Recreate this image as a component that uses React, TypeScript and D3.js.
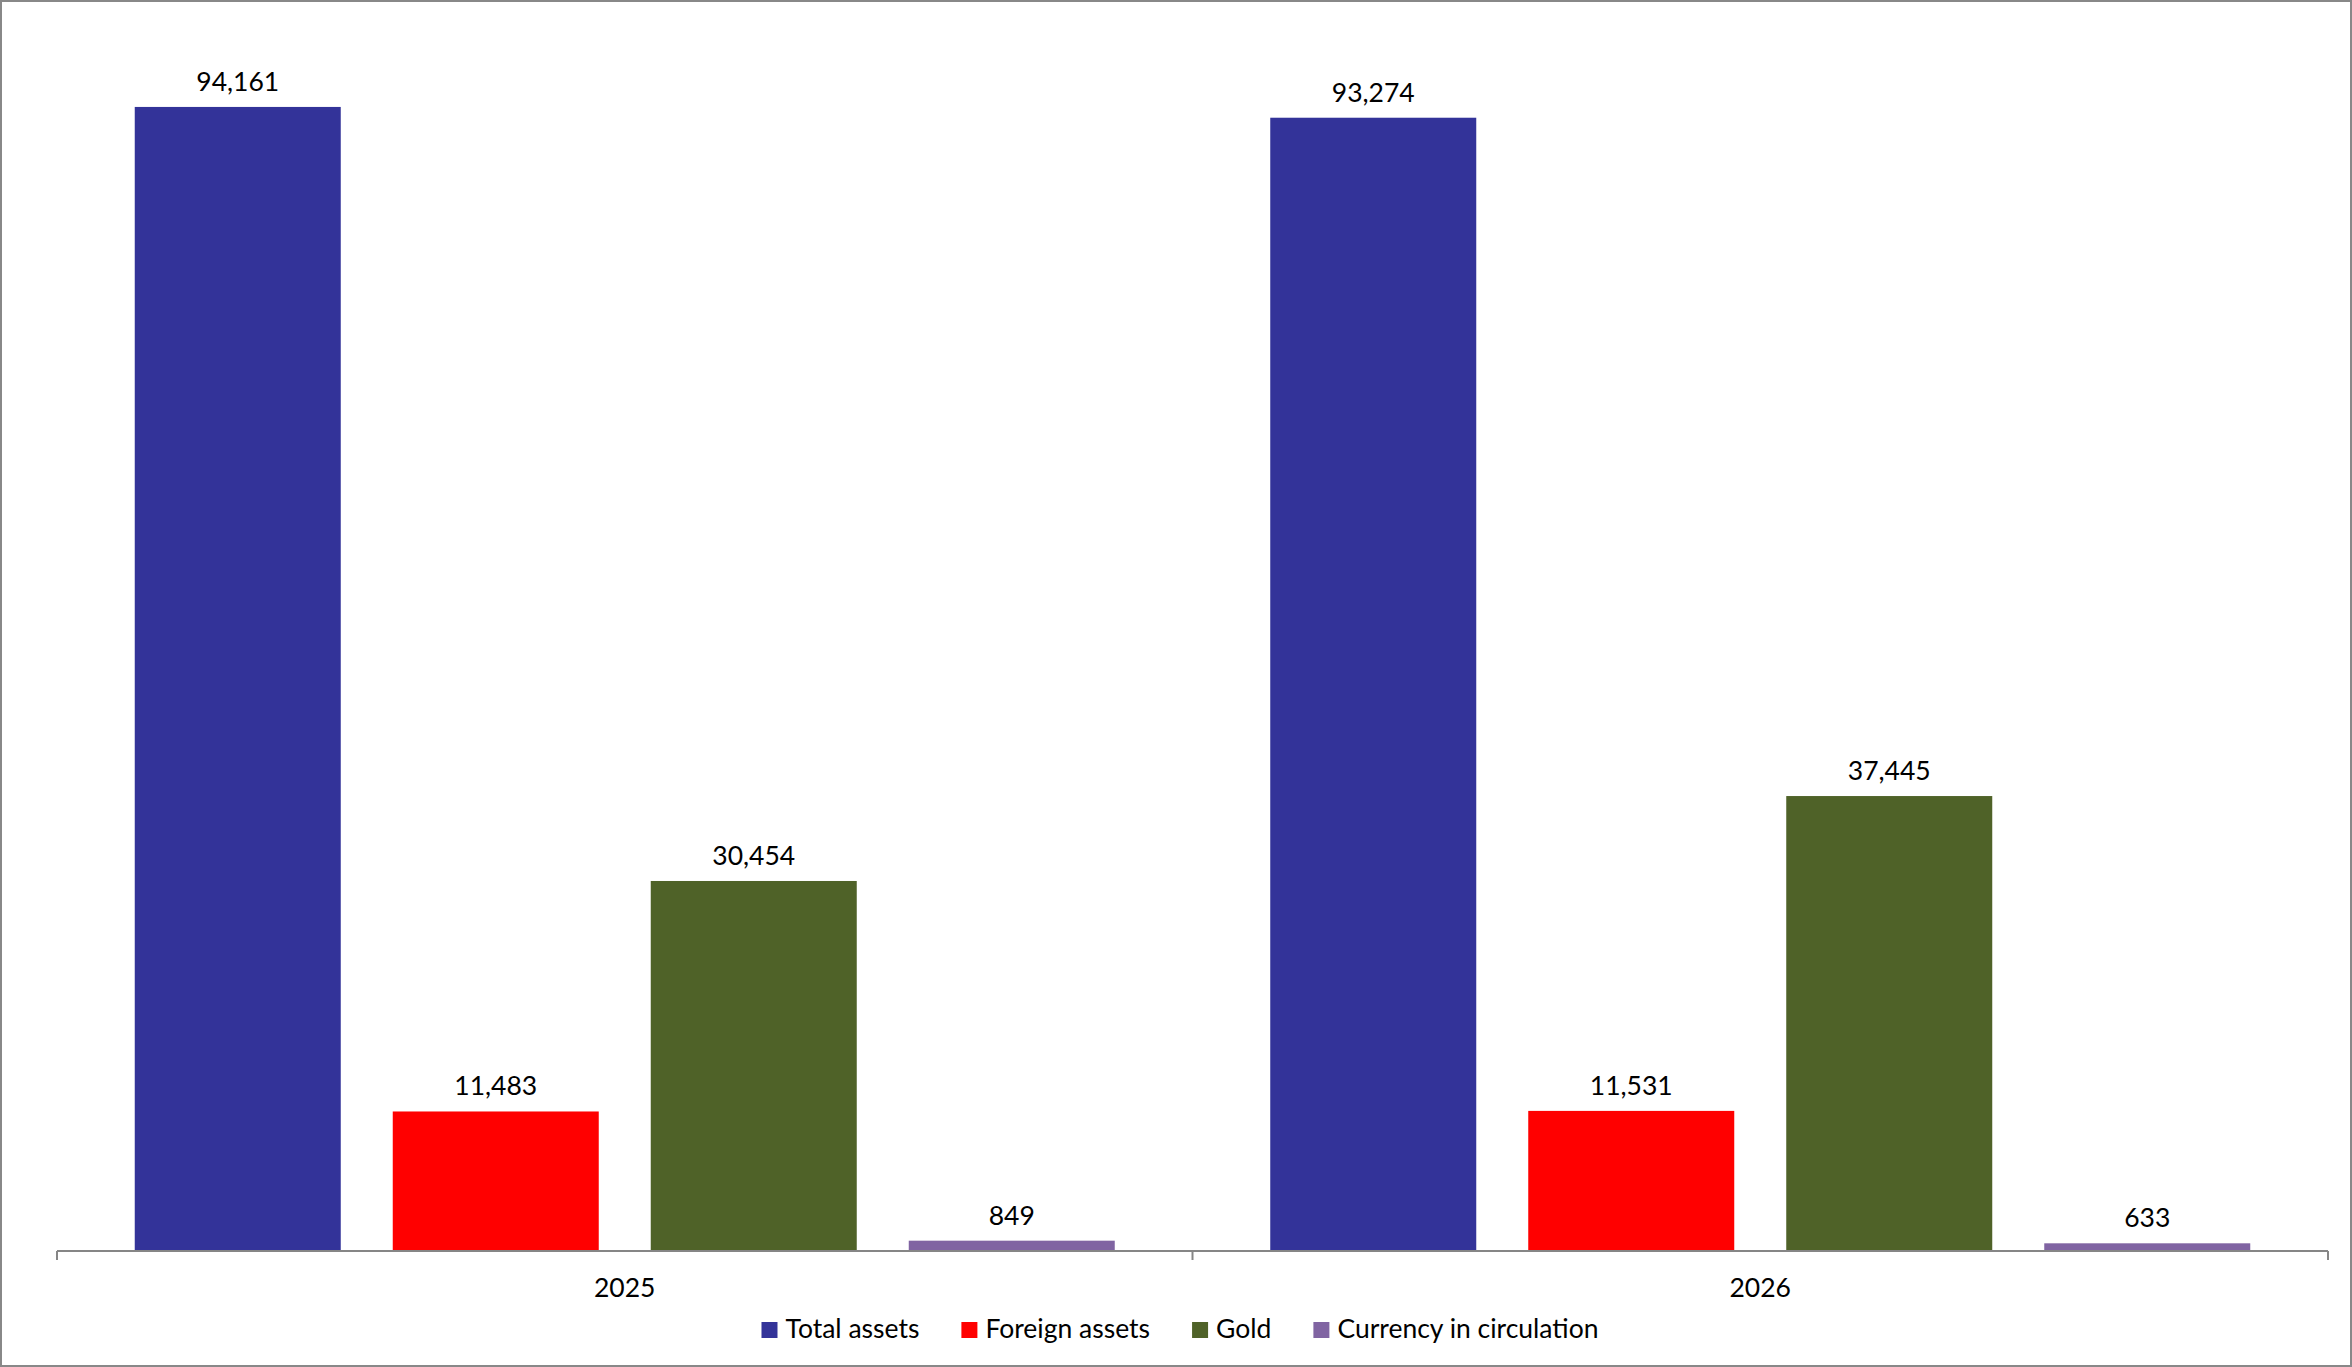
import React, { useEffect, useRef } from "react";
import * as d3 from "d3";

const categories = ["2025", "2026"];
const seriesNames = ["Total assets", "Foreign assets", "Gold", "Currency in circulation"];
const seriesColors = ["#333399", "#FF0000", "#4F6228", "#8064A2"];
const totalAssets = [94161, 93274];
const foreignAssets = [11483, 11531];
const gold = [30454, 37445];
const currency = [849, 633];

const W = 2352;
const H = 1367;
const FONT = "Lato, 'Open Sans', sans-serif";
const FS = 26.5;

export default function App() {
  const ref = useRef<SVGSVGElement | null>(null);

  useEffect(() => {
    document.body.style.margin = "0";
    const svg = d3.select(ref.current);
    svg.selectAll("*").remove();

    const seriesValues = [totalAssets, foreignAssets, gold, currency];
    const left = 57, right = 2328, top = 36, bottom = 1251;

    const x0 = d3.scaleBand<string>().domain(categories).range([left, right]).paddingInner(0).paddingOuter(0);
    const groupW = x0.bandwidth() * (980 / 1135.5);
    const x1 = d3.scaleBand<string>().domain(seriesNames).range([0, groupW]).paddingInner(52 / 258).paddingOuter(0);
    const y = d3.scaleLinear().domain([0, 100000]).range([bottom, top]);

    svg.append("rect").attr("x", 0).attr("y", 0).attr("width", W).attr("height", H).attr("fill", "#fff");

    const g = svg.append("g");
    categories.forEach((cat, ci) => {
      const gx = (x0(cat) as number) + (x0.bandwidth() - groupW) / 2;
      seriesNames.forEach((s, si) => {
        const v = seriesValues[si][ci];
        const bx = gx + (x1(s) as number);
        g.append("rect")
          .attr("x", bx)
          .attr("y", y(v))
          .attr("width", x1.bandwidth())
          .attr("height", y(0) - y(v))
          .attr("fill", seriesColors[si]);
        g.append("text")
          .attr("x", bx + x1.bandwidth() / 2)
          .attr("y", y(v) - 16)
          .attr("text-anchor", "middle")
          .attr("font-family", FONT)
          .attr("font-size", FS)
          .attr("fill", "#000")
          .text(d3.format(",")(v));
      });
      g.append("text")
        .attr("x", (x0(cat) as number) + x0.bandwidth() / 2)
        .attr("y", 1297)
        .attr("text-anchor", "middle")
        .attr("font-family", FONT)
        .attr("font-size", FS)
        .attr("fill", "#000")
        .text(cat);
    });

    // axis
    svg.append("line").attr("x1", left).attr("x2", right).attr("y1", bottom).attr("y2", bottom)
      .attr("stroke", "#868686").attr("stroke-width", 2);
    const tickXs = [left, ...categories.map((c) => (x0(c) as number) + x0.bandwidth())];
    tickXs.forEach((tx) => {
      svg.append("line").attr("x1", tx).attr("x2", tx).attr("y1", bottom).attr("y2", bottom + 9)
        .attr("stroke", "#868686").attr("stroke-width", 2);
    });

    // legend
    const lg = svg.append("g");
    const items: { g: any; w: number }[] = [];
    seriesNames.forEach((s, si) => {
      const ig = lg.append("g");
      ig.append("rect").attr("x", 0).attr("y", 1322).attr("width", 16).attr("height", 16).attr("fill", seriesColors[si]);
      const t = ig.append("text").attr("x", 24).attr("y", 1338)
        .attr("font-family", FONT).attr("font-size", FS).attr("fill", "#000").text(s);
      const tw = (t.node() as SVGTextElement).getComputedTextLength();
      items.push({ g: ig, w: 24 + tw });
    });
    const gap = 42;
    const total = d3.sum(items, (d) => d.w) + gap * (items.length - 1);
    let cx = 1180 - total / 2;
    items.forEach((it) => {
      it.g.attr("transform", `translate(${cx},0)`);
      cx += it.w + gap;
    });

    // border
    svg.append("rect").attr("x", 1).attr("y", 1).attr("width", W - 2).attr("height", H - 2)
      .attr("fill", "none").attr("stroke", "#888888").attr("stroke-width", 2);
  }, []);

  return (
    <svg ref={ref} width={W} height={H} style={{ position: "absolute", left: 0, top: 0, display: "block" }} />
  );
}
